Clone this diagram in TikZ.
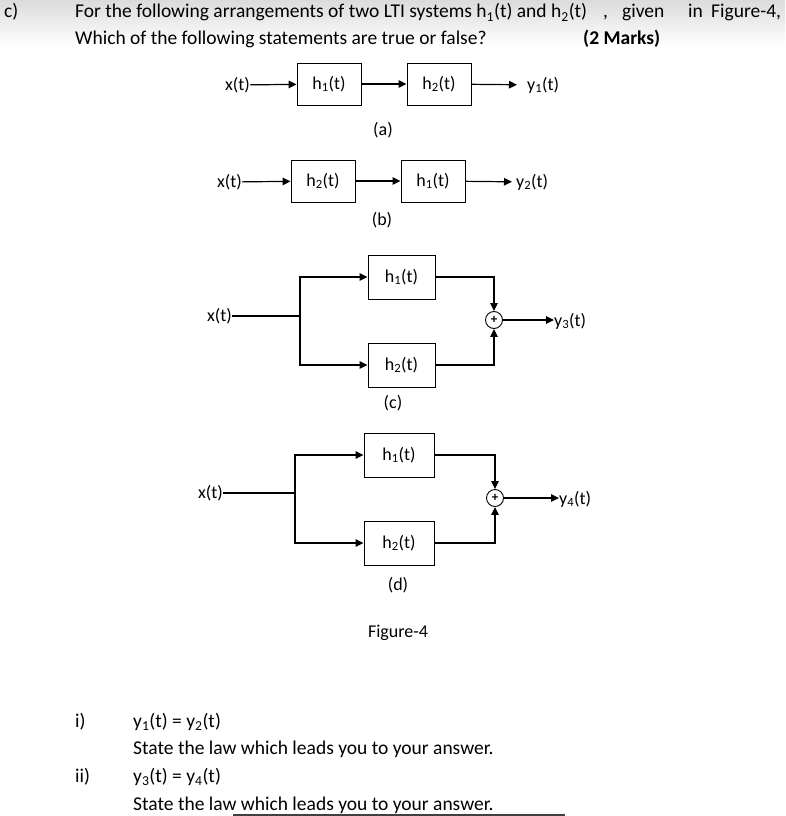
\documentclass[tikz,border=0pt]{standalone}
\usepackage{fontspec}
\setmainfont{Carlito}
\usetikzlibrary{arrows.meta,positioning,calc}
\tikzset{
  blk/.style={draw,line width=0.9pt,minimum width=64pt,minimum height=42pt,inner sep=0pt,
    font=\fontsize{18}{21}\selectfont},
  sig/.style={inner sep=0pt,font=\fontsize{18}{21}\selectfont},
  sumnode/.style={draw,circle,line width=0.9pt,minimum size=17pt,inner sep=0pt,
    font=\fontsize{13}{13}\selectfont\bfseries},
  arr/.style={-{Triangle[length=8pt,width=7.5pt]},line width=1.2pt},
  wire/.style={line width=1.2pt},
  txt/.style={inner sep=0pt,anchor=base west,font=\fontsize{19.5}{23}\selectfont},
}

\begin{document}
\begin{tikzpicture}[x=1pt,y=-1pt]
\useasboundingbox (0,0) rectangle (785,816);
\shade[top color=black!14,bottom color=white] (0,0) rectangle (785,46);
% question
\node[txt] (qc) at (4,18) {c)};
\node[txt] (q1) at (75,18) {For the following arrangements of two LTI systems h\textsubscript{1}(t) and h\textsubscript{2}(t)};
\node[txt] (q1a) at (603,18) {,};
\node[txt] (q1b) at (622,18) {given};
\node[txt] (q1c) at (688,18) {in};
\node[txt] (q1d) at (711,18) {Figure-4,};
\node[txt] (q2) at (75,45) {Which of the following statements are true or false?};
\node[txt,font=\fontsize{19.5}{23}\selectfont\bfseries] (mk) at (583,45) {(2 Marks)};

% (a) cascade h1 -> h2
\node[sig,anchor=east] (xa) at (250,85) {x(t)};
\node[blk] (a1) at (329,84) {h\textsubscript{1}(t)};
\node[blk] (a2) at (439,84) {h\textsubscript{2}(t)};
\node[sig,anchor=west] (ya) at (527,85) {y\textsubscript{1}(t)};
\node[sig] (la) at (383,130) {(a)};
\draw[arr] (xa) -- (a1);
\draw[arr] (a1) -- (a2);
\draw[arr,shorten >=10pt] (a2) -- (ya);

% (b) cascade h2 -> h1
\node[sig,anchor=east] (xb) at (242,182) {x(t)};
\node[blk] (b1) at (323,181) {h\textsubscript{2}(t)};
\node[blk] (b2) at (433,181) {h\textsubscript{1}(t)};
\node[sig,anchor=west] (yb) at (516,182) {y\textsubscript{2}(t)};
\node[sig] (lb) at (382,220) {(b)};
\draw[arr] (xb) -- (b1);
\draw[arr] (b1) -- (b2);
\draw[arr,shorten >=4pt] (b2) -- (yb);

% (c) parallel
\node[sig,anchor=east] (xc) at (232,316) {x(t)};
\coordinate (jc) at (300,316);
\node[blk,minimum width=67pt,minimum height=44pt] (c1) at (401.5,277) {h\textsubscript{1}(t)};
\node[blk,minimum width=67pt,minimum height=44pt] (c2) at (401.5,365) {h\textsubscript{2}(t)};
\node[sumnode] (cs) at (494,320) {+};
\node[sig,anchor=west] (yc) at (554,321) {y\textsubscript{3}(t)};
\node[sig] (lc) at (393,403) {(c)};
\draw[wire] (xc) -- (jc);
\draw[arr] (jc) |- (c1);
\draw[arr] (jc) |- (c2);
\draw[arr] (c1) -| (cs);
\draw[arr] (c2) -| (cs);
\draw[arr] (cs) -- (cs -| yc.west);

% (d) parallel
\node[sig,anchor=east] (xd) at (223,493) {x(t)};
\coordinate (jd) at (295,493);
\node[blk,minimum width=70pt,minimum height=44pt] (d1) at (399,455) {h\textsubscript{1}(t)};
\node[blk,minimum width=70pt,minimum height=44pt] (d2) at (399,543) {h\textsubscript{2}(t)};
\node[sumnode] (ds) at (495,498) {+};
\node[sig,anchor=west] (yd) at (559,499) {y\textsubscript{4}(t)};
\node[sig] (ld) at (398,585) {(d)};
\draw[wire] (xd) -- (jd);
\draw[arr] (jd) |- (d1);
\draw[arr] (jd) |- (d2);
\draw[arr] (d1) -| (ds);
\draw[arr] (d2) -| (ds);
\draw[arr] (ds) -- (ds -| yd.west);

\node[sig] (fig) at (398,633) {Figure-4};

% statements
\node[txt] (ni) at (75,727) {i)};
\node[txt] (s1) at (133,727) {y\textsubscript{1}(t) = y\textsubscript{2}(t)};
\node[txt] (l1) at (133,754) {State the law which leads you to your answer.};
\node[txt] (nii) at (75,782) {ii)};
\node[txt] (s2) at (133,782) {y\textsubscript{3}(t) = y\textsubscript{4}(t)};
\node[txt] (l2) at (133,810) {State the law which leads you to your answer.};
\draw[line width=2pt,black!75] (233,815) -- (565,815);
\end{tikzpicture}
\end{document}
